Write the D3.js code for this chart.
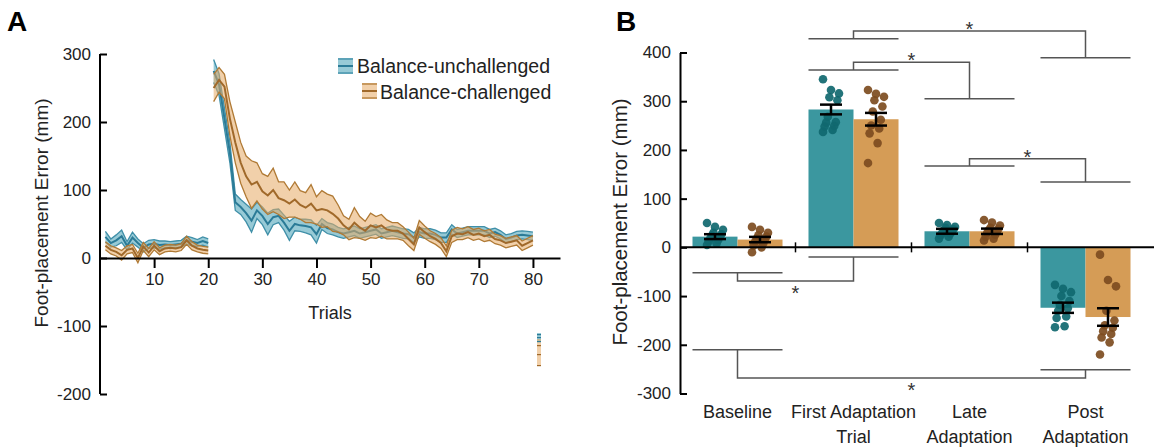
<!DOCTYPE html>
<html>
<head>
<meta charset="utf-8">
<script src="https://cdn.jsdelivr.net/npm/d3@7"></script>
<style>
  body { margin: 0; background: #fff; }
  svg { display: block; font-family: "Liberation Sans", Arial, sans-serif; }
</style>
</head>
<body>
<div id="chart"></div>
<script>
// ---- panel A : trial by trial mean and SE (mm) ----
const groups = ["Balance-unchallenged", "Balance-challenged"];
const baseTrials = d3.range(1, 21);
const adaptTrials = d3.range(21, 81);

const baseUnchMean = [31, 22, 26, 32, 18, 30, 22, 15, 20, 21, 19, 20, 19, 20, 21, 26, 24, 22, 25, 22];
const baseUnchSE   = [8, 6, 8, 9, 6, 8, 6, 6, 6, 6, 6, 5, 5, 5, 5, 6, 6, 5, 6, 6];
const baseChalMean = [18, 12, 9, 4, 12, 14, 0, 17, 8, 18, 10, 14, 15, 14, 16, 26, 18, 14, 12, 11];
const baseChalSE   = [6, 6, 6, 7, 6, 6, 7, 6, 6, 6, 5, 5, 5, 5, 5, 6, 6, 5, 5, 5];

const adaptUnchMean = [275, 255, 205, 155, 82, 75, 66, 55, 70, 62,
                       50, 60, 62, 52, 40, 50, 48, 47, 45, 35,
                       50, 44, 42, 38, 36, 38, 40, 36, 38, 40,
                       42, 36, 38, 40, 38, 36, 35, 30, 38, 36,
                       36, 34, 30, 30, 42, 36, 38, 40, 40, 40,
                       40, 36, 38, 34, 28, 30, 33, 34, 33, 32];
const adaptUnchSE   = [17, 16, 15, 15, 12, 11, 13, 17, 12, 13,
                       16, 11, 10, 11, 14, 10, 9, 10, 11, 13,
                       8, 8, 8, 7, 7, 7, 7, 7, 7, 7,
                       7, 7, 7, 7, 7, 7, 7, 7, 7, 7,
                       7, 7, 7, 7, 7, 6, 6, 6, 6, 6,
                       6, 6, 6, 6, 6, 6, 6, 6, 6, 6];
const adaptChalMean = [250, 262, 252, 205, 170, 140, 120, 108, 112, 98,
                       92, 100, 88, 85, 80, 86, 78, 74, 80, 70,
                       72, 70, 65, 58, 48, 42, 52, 45, 40, 48,
                       45, 48, 42, 40, 40, 36, 28, 20, 45, 38,
                       32, 28, 22, 10, 32, 36, 35, 38, 34, 36,
                       32, 34, 28, 26, 22, 24, 26, 18, 22, 26];
const adaptChalSE   = [20, 18, 18, 25, 30, 30, 30, 35, 28, 26,
                       28, 32, 24, 27, 20, 26, 21, 22, 28, 20,
                       27, 24, 26, 20, 14, 15, 22, 16, 14, 18,
                       16, 16, 14, 12, 12, 10, 10, 9, 10, 9,
                       8, 8, 8, 8, 9, 9, 8, 8, 8, 8,
                       8, 8, 7, 7, 7, 7, 7, 7, 7, 7];

const trialTicks = [10, 20, 30, 40, 50, 60, 70, 80];
const errTicksA = [-200, -100, 0, 100, 200, 300];

// ---- panel B : phase means, SE and participants (mm) ----
const phases = ["Baseline", "First Adaptation|Trial", "Late|Adaptation", "Post|Adaptation"];
const barUnch = [22, 283, 33, -124];
const barChal = [16, 263, 33, -143];
const seUnch = [5, 10, 5, 10.5];
const seChal = [5.5, 13, 5.5, 18];
const dotsUnch = [
  [50, 42, 36, 30, 27, 24, 22, 18, 15, 12, 8, 5],
  [345, 323, 316, 308, 302, 268, 257, 256, 249, 248, 241, 237],
  [50, 46, 42, 40, 37, 35, 32, 30, 28, 25, 22, 18],
  [-77, -85, -92, -100, -110, -118, -125, -130, -142, -145, -162, -164]
];
const dotsChal = [
  [42, 36, 30, 25, 22, 18, 15, 12, 8, 4, 0, -10],
  [323, 315, 309, 302, 289, 279, 262, 250, 244, 234, 214, 173],
  [56, 51, 45, 40, 38, 35, 32, 30, 26, 22, 18, 14],
  [-15, -67, -80, -130, -150, -160, -165, -172, -178, -185, -195, -220]
];
const errTicksB = [-300, -200, -100, 0, 100, 200, 300, 400];
// significance brackets: [phase i, level i, phase j, level j, joining level]
const brackets = [
  [1, 428, 3, 389, 444],
  [1, 364, 2, 305, 380],
  [2, 167, 3, 134, 182],
  [0, -52, 1, -20, -69],
  [0, -210, 3, -251, -268]
];

const colUnch = { fill: "rgba(66,158,180,0.55)", edge: "#3f8fa8", line: "#2b7b97", bar: "#3b979f", dot: "#10686f" };
const colChal = { fill: "rgba(230,170,100,0.55)", edge: "#b07a35", line: "#a0692a", bar: "#d59c56", dot: "#7d4c1f" };

const svg = d3.select("#chart").append("svg")
  .attr("width", 1154)
  .attr("height", 447);

// =================== panel A ===================
const xA = d3.scaleLinear().domain([0, 85]).range([100, 560]);
const yA = d3.scaleLinear().domain([-200, 300]).range([394, 54]);

const gA = svg.append("g");

const area = d3.area()
  .x(d => xA(d.t))
  .y0(d => yA(d.m - d.s))
  .y1(d => yA(d.m + d.s));
const lineOf = key => d3.line().x(d => xA(d.t)).y(d => yA(key(d)));

function segment(trials, mean, se) {
  return trials.map((t, i) => ({ t: t, m: mean[i], s: se[i] }));
}

const seriesA = [
  { col: colUnch, segs: [segment(baseTrials, baseUnchMean, baseUnchSE), segment(adaptTrials, adaptUnchMean, adaptUnchSE)] },
  { col: colChal, segs: [segment(baseTrials, baseChalMean, baseChalSE), segment(adaptTrials, adaptChalMean, adaptChalSE)] }
];

seriesA.forEach(s => {
  s.segs.forEach(seg => {
    gA.append("path").attr("d", area(seg)).attr("fill", s.col.fill).attr("stroke", "none");
    gA.append("path").attr("d", lineOf(d => d.m + d.s)(seg)).attr("fill", "none")
      .attr("stroke", s.col.edge).attr("stroke-width", 1.3);
    gA.append("path").attr("d", lineOf(d => d.m - d.s)(seg)).attr("fill", "none")
      .attr("stroke", s.col.edge).attr("stroke-width", 1.3);
    gA.append("path").attr("d", lineOf(d => d.m)(seg)).attr("fill", "none")
      .attr("stroke", s.col.line).attr("stroke-width", 2);
  });
});

// axes A (plain hyphen for negatives, as in the figure)
const fmt = d => String(d);
const axA_x = gA.append("g")
  .attr("transform", "translate(0," + yA(0) + ")")
  .call(d3.axisBottom(xA).tickValues(trialTicks).tickFormat(fmt).tickSize(10).tickPadding(5).tickSizeOuter(0));
const axA_y = gA.append("g")
  .attr("transform", "translate(" + xA(0) + ",0)")
  .call(d3.axisLeft(yA).tickValues(errTicksA).tickFormat(fmt).tickSize(-7).tickPadding(9).tickSizeOuter(0));
[axA_x, axA_y].forEach(ax => {
  ax.select(".domain").attr("stroke", "#000").attr("stroke-width", 2);
  ax.selectAll(".tick line").attr("stroke", "#000").attr("stroke-width", 2);
  ax.selectAll(".tick text").attr("fill", "#222").style("font-size", "17px");
});
axA_y.select(".domain").attr("d", "M0," + yA(300) + "V" + yA(-200));

gA.append("text").attr("x", 330).attr("y", 319).attr("text-anchor", "middle")
  .attr("fill", "#222").style("font-size", "18px").text("Trials");
gA.append("text").attr("transform", "translate(48,213) rotate(-90)")
  .attr("text-anchor", "middle").attr("fill", "#222").style("font-size", "19px")
  .text("Foot-placement Error (mm)");
svg.append("text").attr("x", 7).attr("y", 31).style("font-size", "28px")
  .style("font-weight", "bold").text("A");

// legend A
function swatch(g, x, y, col) {
  g.append("rect").attr("x", x).attr("y", y).attr("width", 15).attr("height", 16).attr("fill", col.fill);
  [y + 1, y + 15].forEach(yy => g.append("line").attr("x1", x).attr("x2", x + 15)
    .attr("y1", yy).attr("y2", yy).attr("stroke", col.edge).attr("stroke-width", 1.3));
  g.append("line").attr("x1", x).attr("x2", x + 15).attr("y1", y + 8).attr("y2", y + 8)
    .attr("stroke", col.line).attr("stroke-width", 2);
}
const legA = gA.append("g");
swatch(legA, 338, 58, colUnch);
legA.append("text").attr("x", 357).attr("y", 73).attr("fill", "#222")
  .style("font-size", "19.5px").text(groups[0]);
swatch(legA, 362, 83, colChal);
legA.append("text").attr("x", 380).attr("y", 99).attr("fill", "#222")
  .style("font-size", "19.5px").text(groups[1]);

// small stray legend glyph at lower right of panel A
const stray = gA.append("g").attr("transform", "translate(537,333)");
stray.append("rect").attr("width", 4).attr("height", 9).attr("fill", colUnch.fill);
stray.append("rect").attr("y", 6).attr("width", 4).attr("height", 27).attr("fill", colChal.fill);
[1, 4, 8].forEach(yy => stray.append("rect").attr("y", yy).attr("width", 4).attr("height", 1.2).attr("fill", colUnch.line));
[12, 21, 32].forEach(yy => stray.append("rect").attr("y", yy).attr("width", 4).attr("height", 1.2).attr("fill", colChal.line));

// =================== panel B ===================
const xB = d3.scaleBand().domain(phases).range([679.5, 1143.5]).paddingInner(0.224).paddingOuter(0.112);
const xSub = d3.scaleBand().domain(groups).range([0, xB.bandwidth()]);
const yB = d3.scaleLinear().domain([-300, 400]).range([393.5, 52.5]);

const gB = svg.append("g");

const barData = [];
phases.forEach((p, i) => {
  barData.push({ p: p, g: groups[0], v: barUnch[i], se: seUnch[i], dots: dotsUnch[i], col: colUnch });
  barData.push({ p: p, g: groups[1], v: barChal[i], se: seChal[i], dots: dotsChal[i], col: colChal });
});

gB.selectAll("rect.bar").data(barData).enter().append("rect")
  .attr("class", "bar")
  .attr("x", d => xB(d.p) + xSub(d.g))
  .attr("width", xSub.bandwidth())
  .attr("y", d => yB(Math.max(0, d.v)))
  .attr("height", d => Math.abs(yB(d.v) - yB(0)))
  .attr("fill", d => d.col.bar);

// participant dots, spread a little around the bar centre
const jitter = i => ((i * 5) % 11 - 5) * 1.6;
barData.forEach(d => {
  const cx = xB(d.p) + xSub(d.g) + xSub.bandwidth() / 2;
  gB.selectAll(null).data(d.dots).enter().append("circle")
    .attr("cx", (v, i) => cx + jitter(i))
    .attr("cy", v => yB(v))
    .attr("r", 4.3)
    .attr("fill", d.col.dot)
    .attr("opacity", 0.92);
});

// error bars
barData.forEach(d => {
  const cx = xB(d.p) + xSub(d.g) + xSub.bandwidth() / 2;
  const g = gB.append("g").attr("stroke", "#000").attr("stroke-width", 2.5);
  g.append("line").attr("x1", cx).attr("x2", cx).attr("y1", yB(d.v - d.se)).attr("y2", yB(d.v + d.se));
  [d.v - d.se, d.v + d.se].forEach(v => g.append("line")
    .attr("x1", cx - 11).attr("x2", cx + 11).attr("y1", yB(v)).attr("y2", yB(v)));
});

// axes B
gB.append("line").attr("x1", 680).attr("x2", 1154).attr("y1", yB(0)).attr("y2", yB(0))
  .attr("stroke", "#000").attr("stroke-width", 2);
phases.slice(1).forEach(p => {
  const tx = xB(p) - xB.step() * xB.paddingInner() / 2;
  gB.append("line").attr("x1", tx).attr("x2", tx).attr("y1", yB(0) - 5).attr("y2", yB(0) + 5)
    .attr("stroke", "#000").attr("stroke-width", 1.5);
});
const axB_y = gB.append("g")
  .attr("transform", "translate(680,0)")
  .call(d3.axisLeft(yB).tickValues(errTicksB).tickFormat(fmt).tickSize(-7).tickPadding(9).tickSizeOuter(0));
axB_y.select(".domain").attr("stroke", "#000").attr("stroke-width", 2);
axB_y.selectAll(".tick line").attr("stroke", "#000").attr("stroke-width", 2);
axB_y.selectAll(".tick text").attr("fill", "#222").style("font-size", "17px");

phases.forEach(p => {
  const lines = p.split("|");
  const t = gB.append("text").attr("text-anchor", "middle").attr("fill", "#222")
    .style("font-size", "18px");
  lines.forEach((l, k) => t.append("tspan")
    .attr("x", xB(p) + xB.bandwidth() / 2).attr("y", 418 + k * 25).text(l));
});

gB.append("text").attr("transform", "translate(627,222) rotate(-90)")
  .attr("text-anchor", "middle").attr("fill", "#222").style("font-size", "20.5px")
  .text("Foot-placement Error (mm)");
svg.append("text").attr("x", 616).attr("y", 31).style("font-size", "28px")
  .style("font-weight", "bold").text("B");

// significance brackets
brackets.forEach(b => {
  const [i, li, j, lj, top] = b;
  const pi = phases[i], pj = phases[j];
  const ci = xB(pi) + xB.bandwidth() / 2, cj = xB(pj) + xB.bandwidth() / 2;
  const g = gB.append("g").attr("stroke", "#555").attr("stroke-width", 1.5).attr("fill", "none");
  g.append("line").attr("x1", xB(pi)).attr("x2", xB(pi) + xB.bandwidth()).attr("y1", yB(li)).attr("y2", yB(li));
  g.append("line").attr("x1", xB(pj)).attr("x2", xB(pj) + xB.bandwidth()).attr("y1", yB(lj)).attr("y2", yB(lj));
  g.append("path").attr("d", "M" + ci + "," + yB(li) + "V" + yB(top) + "H" + cj + "V" + yB(lj));
  const above = top > Math.max(li, lj);
  gB.append("text").attr("x", (ci + cj) / 2).attr("y", yB(top) + (above ? 5 : 19))
    .attr("text-anchor", "middle").attr("fill", "#333").style("font-size", "20px").text("*");
});
</script>
</body>
</html>
